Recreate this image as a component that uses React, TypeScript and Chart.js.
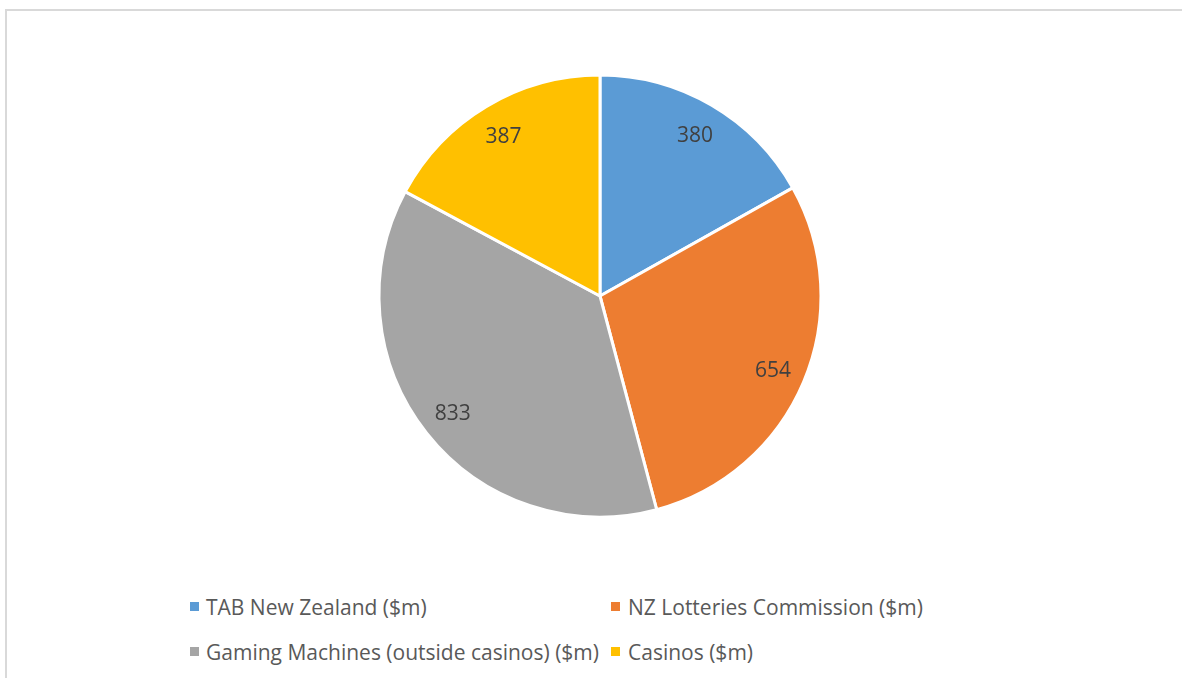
import React, { useEffect, useRef } from "react";
import { Chart, registerables } from "chart.js";

Chart.register(...registerables);

const categories = [
  "TAB New Zealand ($m)",
  "NZ Lotteries Commission ($m)",
  "Gaming Machines (outside casinos) ($m)",
  "Casinos ($m)",
];
const values = [380, 654, 833, 387];
const colors = ["#5B9BD5", "#ED7D31", "#A5A5A5", "#FFC000"];

const FONT = "'Open Sans', Lato, sans-serif";

const labelPlugin = {
  id: "sliceLabels",
  afterDatasetsDraw(chart: any) {
    const ctx = chart.ctx;
    const meta = chart.getDatasetMeta(0);
    ctx.save();
    ctx.font = `21px ${FONT}`;
    ctx.fillStyle = "#404040";
    ctx.textAlign = "center";
    ctx.textBaseline = "middle";
    meta.data.forEach((arc: any, i: number) => {
      const { x, y, startAngle, endAngle, outerRadius } = arc.getProps(
        ["x", "y", "startAngle", "endAngle", "outerRadius"],
        true
      );
      const mid = (startAngle + endAngle) / 2;
      const r = outerRadius * 0.85;
      ctx.fillText(String(values[i]), x + Math.cos(mid) * r, y + Math.sin(mid) * r + 2);
    });
    ctx.restore();
  },
};

export default function App() {
  const ref = useRef<HTMLCanvasElement>(null);
  useEffect(() => {
    const chart = new Chart(ref.current!, {
      type: "pie",
      data: {
        labels: categories,
        datasets: [
          {
            data: values,
            backgroundColor: colors,
            borderColor: "#ffffff",
            borderWidth: 3,
            radius: 221,
          } as any,
        ],
      },
      options: {
        animation: false,
        responsive: false,
        maintainAspectRatio: false,
        layout: { padding: { left: 18, top: 0, right: 0, bottom: 0 } },
        plugins: {
          legend: { display: false },
          tooltip: { enabled: false },
        },
      },
      plugins: [labelPlugin],
    });
    return () => chart.destroy();
  }, []);

  const legendPos = [
    { sq: 190, tx: 206, cy: 606.5 },
    { sq: 611, tx: 628, cy: 606.5 },
    { sq: 190, tx: 206, cy: 651.5 },
    { sq: 611, tx: 628, cy: 651.5 },
  ];

  return (
    <div
      style={{
        position: "fixed",
        left: 0,
        top: 0,
        width: 1182,
        height: 678,
        background: "#ffffff",
        overflow: "hidden",
      }}
    >
      <div
        style={{
          position: "absolute",
          left: 5,
          top: 9,
          width: 1200,
          height: 700,
          borderLeft: "2px solid #d9d9d9",
          borderTop: "2px solid #d9d9d9",
        }}
      />
      <canvas
        ref={ref}
        width={1182}
        height={592}
        style={{ position: "absolute", left: 0, top: 0, width: 1182, height: 592 }}
      />
      {categories.map((c, i) => (
        <React.Fragment key={c}>
          <div
            style={{
              position: "absolute",
              left: legendPos[i].sq,
              top: legendPos[i].cy - 4.5,
              width: 9,
              height: 9,
              background: colors[i],
            }}
          />
          <div
            style={{
              position: "absolute",
              left: legendPos[i].tx,
              top: legendPos[i].cy - 15,
              height: 30,
              lineHeight: "30px",
              fontFamily: FONT,
              fontSize: 21,
              color: "#595959",
              whiteSpace: "nowrap",
            }}
          >
            {c}
          </div>
        </React.Fragment>
      ))}
    </div>
  );
}
